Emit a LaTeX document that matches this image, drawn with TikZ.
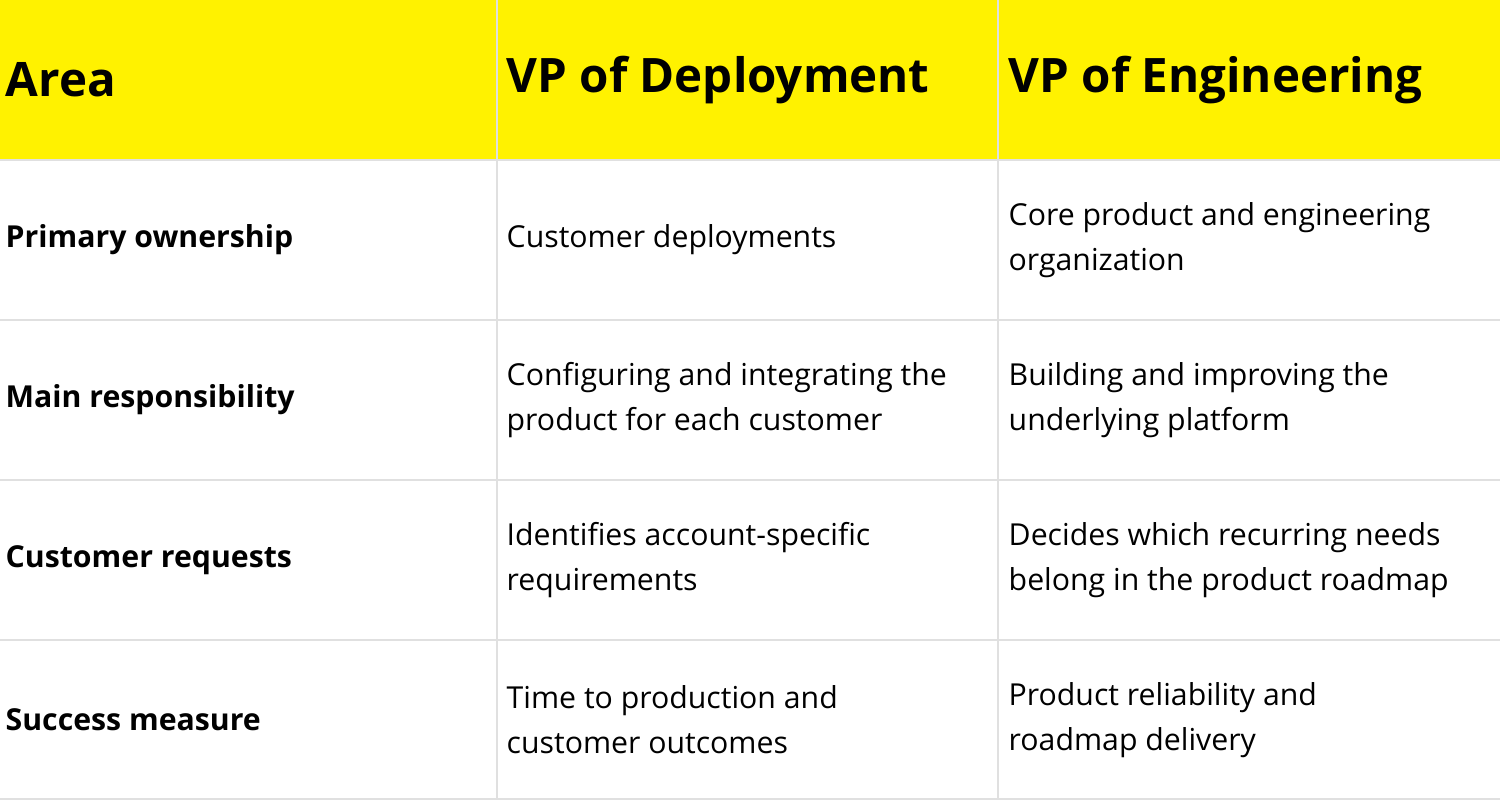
\documentclass[tikz,border=0pt]{standalone}
\usepackage{fontspec}
\setmainfont{Open Sans}
\begin{document}
\begin{tikzpicture}[x=0.01cm,y=-0.01cm,
  hd/.style={anchor=west,font=\fontsize{13.5pt}{16pt}\selectfont\bfseries},
  lb/.style={anchor=west,font=\fontsize{8.6pt}{12.8pt}\selectfont\bfseries},
  tx/.style={anchor=west,align=left,inner sep=0pt,font=\fontsize{8.6pt}{12.8pt}\selectfont}]
\useasboundingbox (0,0) rectangle (1500,800);
\fill[white] (0,0) rectangle (1500,800);
\fill[yellow] (0,0) rectangle (1500,160);
\draw[black!12,line width=0.6pt] (497,0) -- (497,800) (998,0) -- (998,800)
  (0,160) -- (1500,160) (0,320) -- (1500,320) (0,480) -- (1500,480) (0,640) -- (1500,640) (0,799) -- (1500,799);
\node[hd,inner sep=0pt] (h1) at (5,80) {Area};
\node[hd,inner sep=0pt] (h2) at (506,80) {VP of Deployment};
\node[hd,inner sep=0pt] (h3) at (1008,80) {VP of Engineering};
\node[lb,inner sep=0pt] (l1) at (5,240) {Primary ownership};
\node[lb,inner sep=0pt] (l2) at (5,400) {Main responsibility};
\node[lb,inner sep=0pt] (l3) at (5,560) {Customer requests};
\node[lb,inner sep=0pt] (l4) at (5,720) {Success measure};
\node[tx] (a1) at (506,240) {Customer deployments};
\node[tx] (b1) at (1008,240) {Core product and engineering\\organization};
\node[tx] (a2) at (506,400) {Configuring and integrating the\\product for each customer};
\node[tx] (b2) at (1008,400) {Building and improving the\\underlying platform};
\node[tx] (a3) at (506,560) {Identifies account-specific\\requirements};
\node[tx] (b3) at (1008,560) {Decides which recurring needs\\belong in the product roadmap};
\node[tx] (a4) at (506,720) {Time to production and\\customer outcomes};
\node[tx] (b4) at (1008,720) {Product reliability and\\roadmap delivery};
\end{tikzpicture}
\end{document}
